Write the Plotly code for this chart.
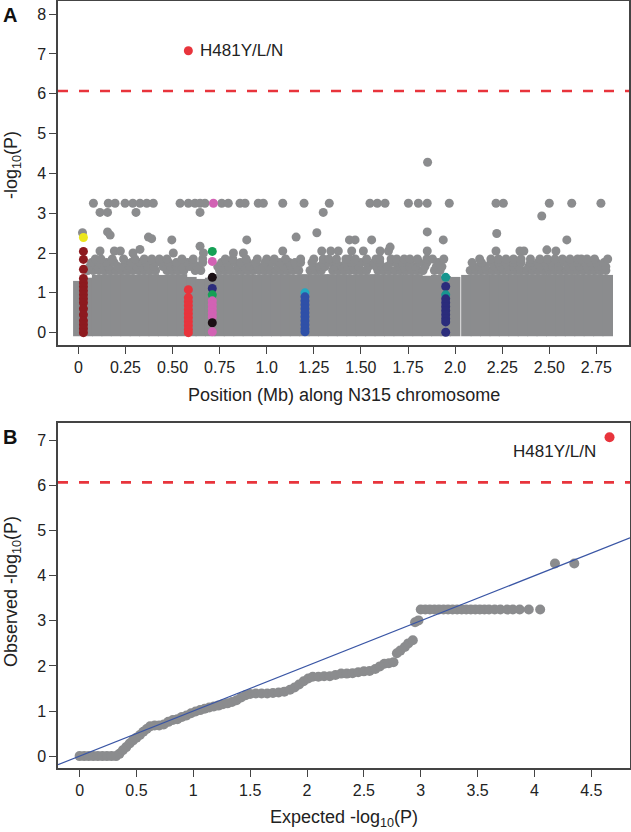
import plotly.graph_objects as go

# ---------------- Panel A : Manhattan plot ----------------
mb_ticks = [0, 0.25, 0.5, 0.75, 1.0, 1.25, 1.5, 1.75, 2.0, 2.25, 2.5, 2.75]
mb_tick_text = ["0", "0.25", "0.50", "0.75", "1.0", "1.25", "1.50", "1.75", "2.0", "2.25", "2.50", "2.75"]
threshold = 6.07

# dense body of non-significant variants (envelope of the solid grey mass)
band_pos = [0.00, 0.05, 0.10, 0.15, 0.20, 0.25, 0.30, 0.35, 0.40, 0.45, 0.50, 0.55, 0.60, 0.65,
            0.70, 0.75, 0.80, 0.85, 0.90, 0.95, 1.00, 1.05, 1.10, 1.15, 1.20, 1.25, 1.30, 1.35,
            1.40, 1.45, 1.50, 1.55, 1.60, 1.65, 1.70, 1.75, 1.80, 1.85, 1.90, 1.95, 2.00,
            2.06, 2.11, 2.16, 2.21, 2.26, 2.31, 2.36, 2.41, 2.46, 2.51, 2.56, 2.61, 2.66, 2.71,
            2.76, 2.81]
band_top = [1.30, 1.38, 1.45, 1.47, 1.47, 1.47, 1.46, 1.47, 1.47, 1.45, 1.47, 1.47, 1.40, 1.35,
            1.38, 1.47, 1.47, 1.47, 1.47, 1.46, 1.47, 1.47, 1.47, 1.46, 1.47, 1.47, 1.47, 1.47,
            1.47, 1.46, 1.47, 1.47, 1.47, 1.47, 1.47, 1.47, 1.47, 1.43, 1.45, 1.42, 1.40,
            1.45, 1.47, 1.47, 1.47, 1.47, 1.47, 1.47, 1.47, 1.47, 1.47, 1.47, 1.47, 1.47, 1.47,
            1.47, 1.45]

# loose layer of points just above the dense body
row_156 = [0.05, 0.08, 0.11, 0.14, 0.17, 0.20, 0.23, 0.26, 0.29, 0.32, 0.35, 0.38, 0.41, 0.47, 0.50,
           0.53, 0.56, 0.62, 0.65, 0.75, 0.78, 0.81, 0.84, 0.87, 0.90, 0.93, 0.96, 0.99, 1.02, 1.05,
           1.08, 1.11, 1.14, 1.17, 1.23, 1.26, 1.29, 1.35, 1.38, 1.41, 1.44, 1.47, 1.50, 1.53, 1.59,
           1.62, 1.65, 1.68, 1.71, 1.74, 1.77, 1.80, 1.83, 1.89, 1.92, 2.08, 2.11, 2.14, 2.17, 2.20,
           2.23, 2.26, 2.29, 2.32, 2.35, 2.38, 2.41, 2.44, 2.47, 2.50, 2.53, 2.56, 2.59, 2.62, 2.65,
           2.68, 2.71, 2.74, 2.77, 2.80]
row_166 = [0.06, 0.10, 0.13, 0.16, 0.21, 0.24, 0.27, 0.31, 0.34, 0.37, 0.40, 0.45, 0.49, 0.52, 0.55,
           0.59, 0.63, 0.74, 0.77, 0.80, 0.85, 0.88, 0.91, 0.95, 0.98, 1.01, 1.06, 1.09, 1.13, 1.16,
           1.25, 1.28, 1.31, 1.36, 1.40, 1.43, 1.46, 1.49, 1.54, 1.58, 1.61, 1.64, 1.70, 1.73, 1.76,
           1.79, 1.84, 1.90, 1.93, 2.10, 2.13, 2.16, 2.21, 2.24, 2.28, 2.31, 2.34, 2.39, 2.42, 2.45,
           2.49, 2.52, 2.55, 2.60, 2.63, 2.66, 2.70, 2.73, 2.76, 2.80]
row_176 = [0.07, 0.11, 0.15, 0.19, 0.25, 0.28, 0.33, 0.36, 0.41, 0.44, 0.48, 0.52, 0.58, 0.61, 0.66,
           0.76, 0.79, 0.83, 0.86, 0.90, 0.94, 0.99, 1.03, 1.07, 1.12, 1.15, 1.18, 1.24, 1.30, 1.33,
           1.37, 1.42, 1.45, 1.50, 1.53, 1.57, 1.60, 1.66, 1.69, 1.72, 1.76, 1.81, 1.85, 1.91, 2.09,
           2.14, 2.19, 2.23, 2.27, 2.31, 2.35, 2.40, 2.44, 2.48, 2.51, 2.55, 2.58, 2.62, 2.65, 2.69,
           2.72, 2.75, 2.79]
row_185 = [0.09, 0.12, 0.18, 0.24, 0.30, 0.35, 0.39, 0.43, 0.47, 0.55, 0.61, 0.66, 0.78, 0.82, 0.89,
           0.95, 1.00, 1.04, 1.10, 1.18, 1.25, 1.30, 1.33, 1.37, 1.42, 1.44, 1.47, 1.53, 1.58, 1.60,
           1.66, 1.69, 1.73, 1.76, 1.80, 1.85, 1.88, 1.94, 2.13, 2.19, 2.23, 2.27, 2.31, 2.35, 2.40,
           2.45, 2.49, 2.53, 2.57, 2.61, 2.65, 2.67, 2.70, 2.74, 2.81]
upper_rows = {1.56: row_156, 1.66: row_166, 1.76: row_176, 1.85: row_185}

# individual grey variants standing out above the mass
outlier_pos = [0.080, 0.159, 0.195, 0.248, 0.289, 0.327, 0.363, 0.398, 0.540, 0.584, 0.619, 0.646,
               0.672, 0.761, 0.796, 0.858, 0.885, 0.955, 0.982, 1.085, 1.198, 1.332, 1.548, 1.587,
               1.628, 1.752, 1.805, 1.852, 1.969, 2.217, 2.256, 2.500, 2.619, 2.774,
               0.115, 0.155, 0.306, 0.646, 1.300, 2.460, 1.854,
               0.022, 0.155, 0.169, 0.372, 0.389, 0.496, 0.894, 1.156, 1.266, 1.852, 2.221, 1.439,
               1.469, 1.557, 1.937, 2.593,
               0.115, 0.191, 0.223, 0.327, 0.290, 0.504, 0.646, 0.664, 0.823, 0.876, 1.085, 1.292,
               1.340, 1.380, 1.451, 1.513, 1.602, 1.646, 1.655, 1.852, 2.217, 2.344, 2.365, 2.487,
               2.535]
outlier_val = [3.25, 3.25, 3.25, 3.25, 3.25, 3.25, 3.25, 3.25, 3.25, 3.25, 3.25, 3.25,
               3.25, 3.25, 3.25, 3.25, 3.25, 3.25, 3.25, 3.25, 3.25, 3.25, 3.25, 3.25,
               3.25, 3.25, 3.25, 3.25, 3.25, 3.25, 3.25, 3.25, 3.25, 3.25,
               3.02, 3.02, 3.02, 3.02, 3.02, 2.93, 4.28,
               2.51, 2.53, 2.45, 2.40, 2.36, 2.33, 2.33, 2.40, 2.51, 2.53, 2.49, 2.33,
               2.33, 2.33, 2.33, 2.33,
               2.05, 2.05, 2.05, 2.09, 2.00, 2.00, 2.17, 2.00, 2.00, 2.00, 2.05, 2.05,
               2.05, 2.05, 2.05, 2.05, 2.05, 2.05, 2.15, 2.05, 2.05, 2.05, 2.05, 2.08,
               2.05]

# coloured variants of the highlighted loci
loc_pos = ([0.027] * 16 + [0.027]
           + [0.584] * 11
           + [0.711] * 12 + [0.717]
           + [1.203] * 11
           + [1.950] * 11)
loc_val = ([2.04, 1.84, 1.59, 1.36, 1.25, 1.15, 1.05, 0.95, 0.85, 0.75, 0.60, 0.45, 0.30, 0.20, 0.10, 0.00, 2.39]
           + [1.08, 0.88, 0.78, 0.68, 0.58, 0.48, 0.38, 0.28, 0.18, 0.08, 0.00]
           + [2.04, 1.79, 1.39, 1.11, 0.95, 0.80, 0.70, 0.60, 0.50, 0.40, 0.25, 0.02, 3.25]
           + [1.00, 0.90, 0.80, 0.70, 0.60, 0.50, 0.40, 0.30, 0.20, 0.10, 0.02]
           + [1.39, 1.16, 0.95, 0.85, 0.75, 0.65, 0.55, 0.45, 0.35, 0.27, 0.01])
loc_color = (["#8d1a1f"] * 16 + ["#ece61c"]
             + ["#e8343c"] * 11
             + ["#15a055", "#d262b4", "#1a0f14", "#2c2c7c", "#15a055", "#d262b4", "#d262b4",
                "#d262b4", "#d262b4", "#d262b4", "#1a0f14", "#d262b4", "#d262b4"]
             + ["#22a9c2"] + ["#2f50a8"] * 10
             + ["#17968f", "#2b2c7c", "#17968f"] + ["#2b2c7c"] * 8)

hit_pos = [0.584]
hit_val = [7.08]
hit_label = "H481Y/L/N"

# ---------------- Panel B : QQ plot ----------------
qq_ticks = [0, 0.5, 1, 1.5, 2, 2.5, 3, 3.5, 4, 4.5]
qq_tick_text = ["0", "0.5", "1", "1.5", "2", "2.5", "3", "3.5", "4", "4.5"]
qq_expected = [0.00, 0.04, 0.08, 0.12, 0.16, 0.20, 0.24, 0.28, 0.32,
               0.35, 0.38, 0.41, 0.44, 0.47, 0.50, 0.53, 0.56, 0.59, 0.62, 0.66, 0.70, 0.74, 0.78,
               0.82, 0.86, 0.90, 0.94, 0.98, 1.02, 1.06, 1.10, 1.14, 1.18, 1.22, 1.26, 1.30, 1.34,
               1.38, 1.42, 1.46, 1.50, 1.55, 1.60, 1.65, 1.70, 1.75, 1.80, 1.85, 1.89, 1.93, 1.97,
               2.01, 2.05, 2.10, 2.15, 2.20, 2.25, 2.30, 2.35, 2.40, 2.45, 2.50, 2.55, 2.60, 2.64,
               2.68, 2.72, 2.76, 2.79, 2.82, 2.86, 2.89, 2.93, 2.95, 2.98,
               3.00, 3.04, 3.08, 3.12, 3.16, 3.20, 3.24, 3.28, 3.32, 3.36, 3.40, 3.44, 3.48, 3.52,
               3.56, 3.60, 3.65, 3.70, 3.76, 3.81, 3.87, 3.95, 4.05,
               4.18, 4.35]
qq_observed = [0.00, 0.00, 0.00, 0.00, 0.00, 0.00, 0.00, 0.00, 0.00,
               0.05, 0.13, 0.20, 0.28, 0.35, 0.41, 0.47, 0.54, 0.60, 0.66, 0.68, 0.68, 0.70, 0.76,
               0.80, 0.82, 0.87, 0.90, 0.95, 0.99, 1.02, 1.05, 1.08, 1.10, 1.12, 1.15, 1.17, 1.20,
               1.24, 1.30, 1.35, 1.38, 1.39, 1.39, 1.39, 1.40, 1.41, 1.43, 1.47, 1.52, 1.59, 1.66,
               1.72, 1.76, 1.76, 1.77, 1.77, 1.80, 1.83, 1.83, 1.84, 1.86, 1.88, 1.89, 1.93, 1.99,
               2.05, 2.06, 2.08, 2.28, 2.34, 2.42, 2.50, 2.57, 2.97, 3.01,
               3.25, 3.25, 3.25, 3.25, 3.25, 3.25, 3.25, 3.25, 3.25, 3.25, 3.25, 3.25, 3.25, 3.25,
               3.25, 3.25, 3.25, 3.25, 3.25, 3.25, 3.25, 3.25, 3.25,
               4.27, 4.27]
qq_hit_expected = [4.66]
qq_hit_observed = [7.07]
abline_intercept = 0.0
abline_slope = 1.0

# ---------------- styling ----------------
W, H = 631, 832
GREY = "#8b8c8e"
RED = "#e8343c"
AXC = "#444444"
FONT = "Liberation Sans, Arial, sans-serif"
TXT = "#222222"

xA_range = [-0.108, 2.923]
yA_range = [-0.31, 8.33]
xB_range = [-0.19, 4.84]
yB_range = [-0.27, 7.38]

fig = go.Figure()

BAND_BASE = -0.09
fig.add_trace(go.Bar(x=band_pos, y=[t - BAND_BASE for t in band_top], base=BAND_BASE,
                     width=0.056, marker=dict(color=GREY, line=dict(width=0)),
                     xaxis="x", yaxis="y", hoverinfo="skip"))

ux, uy = [], []
for lvl, plist in upper_rows.items():
    ux += plist
    uy += [lvl] * len(plist)
fig.add_trace(go.Scatter(x=ux, y=uy, mode="markers", marker=dict(size=9, color=GREY),
                         xaxis="x", yaxis="y", hoverinfo="skip"))
fig.add_trace(go.Scatter(x=outlier_pos, y=outlier_val, mode="markers",
                         marker=dict(size=9, color=GREY), xaxis="x", yaxis="y", hoverinfo="skip"))
fig.add_trace(go.Scatter(x=loc_pos, y=loc_val, mode="markers",
                         marker=dict(size=9, color=loc_color), xaxis="x", yaxis="y", hoverinfo="skip"))
fig.add_trace(go.Scatter(x=hit_pos, y=hit_val, mode="markers",
                         marker=dict(size=9, color=RED), xaxis="x", yaxis="y", hoverinfo="skip"))

# QQ
fig.add_trace(go.Scatter(x=qq_expected, y=qq_observed, mode="markers",
                         marker=dict(size=10, color=GREY), xaxis="x2", yaxis="y2", hoverinfo="skip"))
fig.add_trace(go.Scatter(x=xB_range, y=[abline_intercept + abline_slope * v for v in xB_range],
                         mode="lines", line=dict(color="#3a56a5", width=1.2),
                         xaxis="x2", yaxis="y2", hoverinfo="skip"))
fig.add_trace(go.Scatter(x=qq_hit_expected, y=qq_hit_observed, mode="markers",
                         marker=dict(size=10, color=RED), xaxis="x2", yaxis="y2", hoverinfo="skip"))

dash_line = dict(color=RED, width=2.6, dash="10px,11px")
shapes = [
    dict(type="line", xref="x domain", yref="y", x0=0, x1=1, y0=threshold, y1=threshold,
         line=dash_line, layer="above"),
    dict(type="line", xref="x2 domain", yref="y2", x0=0, x1=1, y0=threshold, y1=threshold,
         line=dash_line, layer="above"),
]

def ax(domain, rng, tickvals=None, ticktext=None, anchor=None):
    d = dict(domain=domain, range=rng, showline=True, linecolor=AXC, linewidth=1.5, mirror=True,
             ticks="outside", ticklen=7, tickwidth=1.3, tickcolor=AXC, showgrid=False,
             zeroline=False, automargin=False, fixedrange=True,
             tickfont=dict(family=FONT, size=16, color=TXT), anchor=anchor)
    if tickvals is not None:
        d.update(tickmode="array", tickvals=tickvals, ticktext=ticktext)
    return d

def py(px):
    return 1 - px / H

def pxx(px):
    return px / W

annotations = [
    dict(text="<b>A</b>", x=pxx(1), y=py(15), xref="paper", yref="paper", xanchor="left",
         yanchor="middle", showarrow=False, font=dict(family=FONT, size=20, color="#111")),
    dict(text="<b>B</b>", x=pxx(1), y=py(437), xref="paper", yref="paper", xanchor="left",
         yanchor="middle", showarrow=False, font=dict(family=FONT, size=20, color="#111")),
    dict(text="-log<sub>10</sub>(P)", x=pxx(12), y=py(165), xref="paper", yref="paper",
         xanchor="center", yanchor="middle", textangle=-90, showarrow=False,
         font=dict(family=FONT, size=18, color=TXT)),
    dict(text="Position (Mb) along N315 chromosome", x=pxx((58 + 629) / 2), y=py(395),
         xref="paper", yref="paper", xanchor="center", yanchor="middle", showarrow=False,
         font=dict(family=FONT, size=18, color=TXT)),
    dict(text="Observed -log<sub>10</sub>(P)", x=pxx(12), y=py(592), xref="paper", yref="paper",
         xanchor="center", yanchor="middle", textangle=-90, showarrow=False,
         font=dict(family=FONT, size=18, color=TXT)),
    dict(text="Expected -log<sub>10</sub>(P)", x=pxx((58 + 630) / 2), y=py(818),
         xref="paper", yref="paper", xanchor="center", yanchor="middle", showarrow=False,
         font=dict(family=FONT, size=18, color=TXT)),
    dict(text=hit_label, x=hit_pos[0], y=hit_val[0], xref="x", yref="y", xanchor="left",
         yanchor="middle", xshift=10, showarrow=False, font=dict(family=FONT, size=17, color=TXT)),
    dict(text=hit_label, x=qq_hit_expected[0], y=qq_hit_observed[0], xref="x2", yref="y2",
         xanchor="right", yanchor="middle", xshift=-12, yshift=-14, showarrow=False,
         font=dict(family=FONT, size=17, color=TXT)),
]

fig.update_layout(
    width=W, height=H, margin=dict(l=0, r=0, t=0, b=0),
    paper_bgcolor="white", plot_bgcolor="white", showlegend=False,
    font=dict(family=FONT, size=16, color=TXT),
    xaxis=ax([pxx(58), pxx(629)], xA_range, mb_ticks, mb_tick_text, anchor="y"),
    yaxis=ax([py(345), py(1)], yA_range, list(range(0, 9)), [str(i) for i in range(0, 9)], anchor="x"),
    xaxis2=ax([pxx(58), pxx(630)], xB_range, qq_ticks, qq_tick_text, anchor="y2"),
    yaxis2=ax([py(768.3), py(423.3)], yB_range, list(range(0, 8)), [str(i) for i in range(0, 8)], anchor="x2"),
    shapes=shapes, annotations=annotations,
)

fig.write_html("out.html", config={"displayModeBar": False},
               post_script="document.body.style.margin='0';document.body.style.overflow='hidden';")
